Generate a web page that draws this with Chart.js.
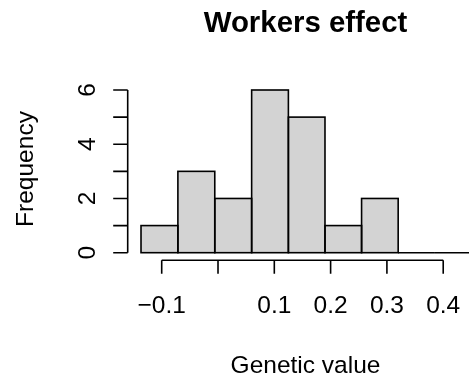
<!DOCTYPE html>
<html>
<head>
<meta charset="utf-8">
<script src="https://cdn.jsdelivr.net/npm/chart.js@4/dist/chart.umd.min.js"></script>
<style>
  html, body { margin: 0; padding: 0; background: #ffffff; }
  canvas { display: block; }
</style>
</head>
<body>
<canvas id="hist" width="469" height="378"></canvas>
<script>
// Histogram bin edges and counts
const binEdges = [-0.137, -0.071, -0.006, 0.060, 0.125, 0.190, 0.255, 0.320, 0.385, 0.451];
const counts   = [1, 3, 2, 6, 5, 1, 2, 0, 0];

// Axis ticks and labels
const xTickValues = [-0.1, 0.0, 0.1, 0.2, 0.3, 0.4];
const xTickLabels = ['\u22120.1', '', '0.1', '0.2', '0.3', '0.4'];
const yTickValues = [0, 1, 2, 3, 4, 5, 6];
const yTickLabels = ['0', '', '2', '', '4', '', '6'];

const titleText = 'Workers effect';
const xTitle = 'Genetic value';
const yTitle = 'Frequency';

const FONT = '"Liberation Sans", Arial, Helvetica, sans-serif';
const BASE_PX = 24.5;
const TITLE_PX = 29.4;
const LINE_W = 1.6;

const barData = counts.map((c, i) => ({ x: (binEdges[i] + binEdges[i + 1]) / 2, y: c }));

// Base-graphics style outlines, axes and text
const baseStyle = {
  id: 'baseStyle',
  afterDatasetsDraw(chart) {
    const ctx = chart.ctx;
    const area = chart.chartArea;
    const meta = chart.getDatasetMeta(0);
    ctx.save();
    ctx.beginPath();
    ctx.rect(area.left, 0, area.right - area.left, chart.height);
    ctx.clip();
    ctx.strokeStyle = '#000';
    ctx.lineWidth = LINE_W;
    ctx.lineJoin = 'miter';
    meta.data.forEach(bar => {
      const p = bar.getProps(['x', 'y', 'base', 'width'], true);
      ctx.strokeRect(p.x - p.width / 2, p.y, p.width, p.base - p.y);
    });
    ctx.restore();
  },
  afterDraw(chart) {
    const ctx = chart.ctx;
    const area = chart.chartArea;
    const xs = chart.scales.x;
    const ys = chart.scales.y;
    ctx.save();
    ctx.strokeStyle = '#000';
    ctx.fillStyle = '#000';
    ctx.lineWidth = LINE_W;
    ctx.lineCap = 'butt';

    // x axis
    const xAxisY = area.bottom + 1;
    const x0 = xs.getPixelForValue(xTickValues[0]);
    const x1 = xs.getPixelForValue(xTickValues[xTickValues.length - 1]);
    ctx.beginPath();
    ctx.moveTo(x0, xAxisY);
    ctx.lineTo(x1, xAxisY);
    xTickValues.forEach(v => {
      const px = xs.getPixelForValue(v);
      ctx.moveTo(px, xAxisY);
      ctx.lineTo(px, xAxisY + 13.5);
    });
    ctx.stroke();
    ctx.font = BASE_PX + 'px ' + FONT;
    ctx.textAlign = 'center';
    ctx.textBaseline = 'alphabetic';
    xTickValues.forEach((v, i) => {
      if (xTickLabels[i]) ctx.fillText(xTickLabels[i], xs.getPixelForValue(v), 313);
    });

    // y axis
    const yAxisX = area.left;
    const yTop = ys.getPixelForValue(yTickValues[yTickValues.length - 1]);
    const yBot = ys.getPixelForValue(yTickValues[0]);
    ctx.beginPath();
    ctx.moveTo(yAxisX, yBot);
    ctx.lineTo(yAxisX, yTop);
    yTickValues.forEach(v => {
      const py = ys.getPixelForValue(v);
      ctx.moveTo(yAxisX, py);
      ctx.lineTo(yAxisX - 14.5, py);
    });
    ctx.stroke();
    yTickValues.forEach((v, i) => {
      if (!yTickLabels[i]) return;
      ctx.save();
      ctx.translate(95, ys.getPixelForValue(v));
      ctx.rotate(-Math.PI / 2);
      ctx.fillText(yTickLabels[i], 0, 0);
      ctx.restore();
    });

    // axis titles
    const cx = 305.5;
    ctx.fillText(xTitle, cx, 373);
    ctx.save();
    ctx.translate(33, 169);
    ctx.rotate(-Math.PI / 2);
    ctx.fillText(yTitle, 0, 0);
    ctx.restore();

    // main title
    ctx.font = 'bold ' + TITLE_PX + 'px ' + FONT;
    ctx.fillText(titleText, cx, 31.7);
    ctx.restore();
  }
};

new Chart(document.getElementById('hist'), {
  type: 'bar',
  data: {
    datasets: [{
      data: barData,
      backgroundColor: '#D3D3D3',
      borderWidth: 0,
      barThickness: 'flex',
      categoryPercentage: 1,
      barPercentage: 1
    }]
  },
  options: {
    responsive: false,
    devicePixelRatio: 1,
    animation: false,
    layout: { padding: { left: 127.7, right: 0, top: 83.5, bottom: 118.8 } },
    plugins: { legend: { display: false }, tooltip: { enabled: false }, title: { display: false } },
    scales: {
      x: {
        type: 'linear',
        offset: false,
        min: -0.1604,
        max: 0.4458,
        display: false,
        afterBuildTicks: s => { s.ticks = xTickValues.map(v => ({ value: v })); }
      },
      y: {
        type: 'linear',
        min: -0.24,
        max: 6.24,
        display: false
      }
    }
  },
  plugins: [baseStyle]
});
</script>
</body>
</html>
